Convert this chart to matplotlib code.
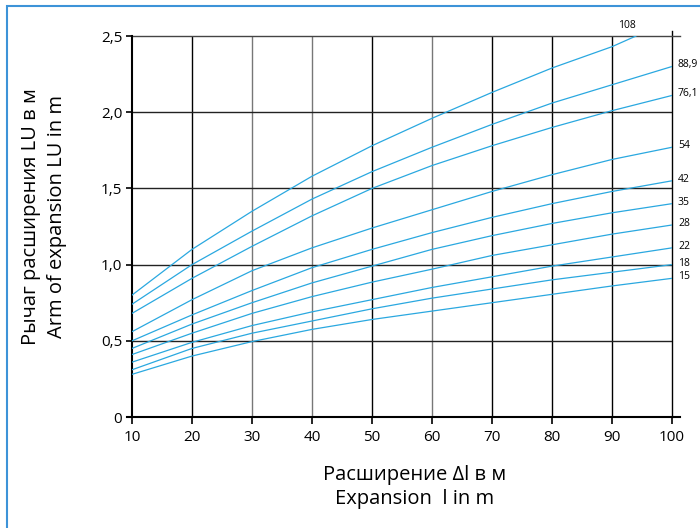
import matplotlib.pyplot as plt
import numpy as np
from matplotlib.patches import Rectangle

# Expansion dl (m) read at the grid lines
dl = [10, 20, 30, 40, 50, 60, 70, 80, 90, 100]
dl_108 = [10, 20, 30, 40, 50, 60, 70, 80, 90, 94]

# Arm of expansion LU (m) per pipe diameter
lu = {
    '108':  [0.80, 1.10, 1.35, 1.58, 1.78, 1.96, 2.13, 2.29, 2.43, 2.50],
    '88,9': [0.74, 1.00, 1.22, 1.43, 1.61, 1.77, 1.92, 2.06, 2.18, 2.30],
    '76,1': [0.68, 0.91, 1.12, 1.32, 1.50, 1.65, 1.78, 1.90, 2.01, 2.11],
    '54':   [0.56, 0.77, 0.96, 1.11, 1.24, 1.36, 1.48, 1.59, 1.69, 1.77],
    '42':   [0.50, 0.67, 0.83, 0.98, 1.10, 1.21, 1.31, 1.40, 1.48, 1.55],
    '35':   [0.45, 0.61, 0.75, 0.88, 0.99, 1.10, 1.19, 1.27, 1.34, 1.40],
    '28':   [0.41, 0.55, 0.68, 0.79, 0.885, 0.97, 1.06, 1.13, 1.20, 1.26],
    '22':   [0.36, 0.49, 0.60, 0.69, 0.77, 0.85, 0.92, 0.99, 1.05, 1.11],
    '18':   [0.31, 0.45, 0.55, 0.63, 0.71, 0.78, 0.84, 0.90, 0.95, 1.00],
    '15':   [0.28, 0.40, 0.495, 0.575, 0.64, 0.695, 0.75, 0.805, 0.86, 0.91],
}

xticks = [10, 20, 30, 40, 50, 60, 70, 80, 90, 100]
yticks = [0, 0.5, 1.0, 1.5, 2.0, 2.5]
yticklabels = ['0', '0,5', '1,0', '1,5', '2,0', '2,5']

plt.rcParams['font.family'] = ['Open Sans', 'DejaVu Sans']

fig = plt.figure(figsize=(7, 5.28), dpi=100)
ax = fig.add_axes([0.1886, 0.2102, 0.7714, 0.7216])

# blue frame round the figure
fig.patches.append(Rectangle((0.010, -0.01), 1.0, 0.999, transform=fig.transFigure,
                             fill=False, edgecolor='#3d93d8', lw=1.5))

blue = '#2aa8e0'
for name, vals in lu.items():
    xs = dl_108 if name == '108' else dl
    ax.plot(xs, vals, color=blue, lw=0.9, zorder=3)
    if name == '108':
        ax.text(92.5, 2.53, name, fontsize=7.5, ha='center', va='bottom')
    else:
        ax.text(101, vals[-1] + 0.01, name, fontsize=7.5, ha='left', va='center')

# grid: a few lines come out grey in the original
vcol = {20: 'k', 30: '#777777', 40: '#777777', 50: 'k', 60: '#777777',
        70: 'k', 80: 'k', 90: 'k'}
for x, c in vcol.items():
    ax.axvline(x, color=c, lw=1.0, zorder=1)
ax.plot([100, 100], [0, 2.53], color='k', lw=1.0, clip_on=False, zorder=1)
for y in [0.5, 1.0, 1.5, 2.0]:
    ax.axhline(y, color='#222222', lw=1.0, zorder=1)
ax.plot([10, 101.3], [2.5, 2.5], color='#444444', lw=1.0, clip_on=False, zorder=1)
ax.plot([9.2, 101.3], [0, 0], color='k', lw=1.5, clip_on=False, zorder=1)

ax.set_xlim(10, 100)
ax.set_ylim(0, 2.5)
ax.set_xticks(xticks)
ax.set_yticks(yticks)
ax.set_yticklabels(yticklabels)
ax.tick_params(axis='both', labelsize=11, direction='out', length=4, width=1.2, pad=3)
ax.tick_params(axis='x', length=5, pad=4)

for s in ['top', 'right', 'bottom']:
    ax.spines[s].set_visible(False)
ax.spines['left'].set_linewidth(1.5)

fig.text(31 / 700, 0.59, 'Рычаг расширения LU в м', rotation=90, fontsize=14.5,
         ha='center', va='center')
fig.text(57 / 700, 0.59, 'Arm of expansion LU in m', rotation=90, fontsize=14.5,
         ha='center', va='center')
fig.text(415 / 700, 1 - 475 / 528, 'Расширение Δl в м', fontsize=14.5,
         ha='center', va='center')
fig.text(415 / 700, 1 - 499 / 528, 'Expansion  l in m', fontsize=14.5,
         ha='center', va='center')

plt.savefig('out.png', dpi=100)
plt.close()
